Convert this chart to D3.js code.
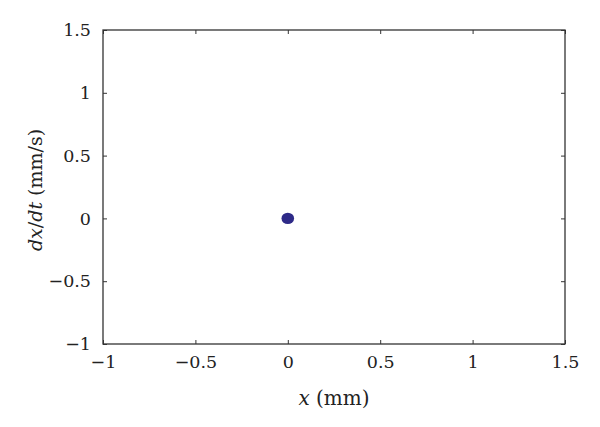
<!DOCTYPE html>
<html><head><meta charset="utf-8">
<script src="https://cdn.jsdelivr.net/npm/d3@7"></script>
<style>body{margin:0;background:#fff}svg{display:block}</style>
</head><body><svg id="c" width="600" height="427"></svg>
<script>
const xTicks = [-1, -0.5, 0, 0.5, 1, 1.5];
const yTicks = [-1, -0.5, 0, 0.5, 1, 1.5];
const pointsX = [0];
const pointsY = [0];
const xDomain = [-1, 1.5];
const yDomain = [-1, 1.5];

const svg = d3.select("#c");
const m = {l: 103, r: 35, t: 30, b: 83};
const W = 600, H = 427;
const x = d3.scaleLinear().domain(xDomain).range([m.l, W - m.r]);
const y = d3.scaleLinear().domain(yDomain).range([H - m.b, m.t]);
const font = "'DejaVu Serif', 'Liberation Serif', serif";
const fmt = d => (d < 0 ? "\u2212" : "") + String(Math.abs(d));

function styleAxis(g) {
  g.selectAll("path.domain").remove();
  g.selectAll("line").attr("stroke", "#333").attr("stroke-width", 1);
  g.selectAll("text").attr("font-family", font).attr("font-size", 17.5).attr("fill", "#222");
}
svg.append("g").attr("transform", `translate(0,${y(yDomain[0])})`)
  .call(d3.axisBottom(x).tickValues(xTicks).tickFormat(fmt).tickSizeInner(-4).tickSizeOuter(0).tickPadding(12))
  .call(styleAxis);
svg.append("g").attr("transform", `translate(0,${y(yDomain[1])})`)
  .call(d3.axisTop(x).tickValues(xTicks).tickFormat("").tickSizeInner(-4).tickSizeOuter(0))
  .call(styleAxis);
svg.append("g").attr("transform", `translate(${x(xDomain[0])},0)`)
  .call(d3.axisLeft(y).tickValues(yTicks).tickFormat(fmt).tickSizeInner(-4).tickSizeOuter(0).tickPadding(12))
  .call(styleAxis);
svg.append("g").attr("transform", `translate(${x(xDomain[1])},0)`)
  .call(d3.axisRight(y).tickValues(yTicks).tickFormat("").tickSizeInner(-4).tickSizeOuter(0))
  .call(styleAxis);

svg.append("rect").attr("x", x(xDomain[0])).attr("y", y(yDomain[1]))
  .attr("width", x(xDomain[1]) - x(xDomain[0])).attr("height", y(yDomain[0]) - y(yDomain[1]))
  .attr("fill", "none").attr("stroke", "#333").attr("stroke-width", 1.3);

svg.selectAll("ellipse.pt").data(pointsX.map((v, i) => [v, pointsY[i]])).enter()
  .append("ellipse").attr("class", "pt")
  .attr("cx", d => x(d[0])).attr("cy", d => y(d[1])).attr("rx", 6.3).attr("ry", 5.7)
  .attr("fill", "#2e2a88");

const xl = svg.append("text").attr("x", (x(xDomain[0]) + x(xDomain[1])) / 2).attr("y", 405)
  .attr("text-anchor", "middle").attr("font-family", font).attr("font-size", 20).attr("fill", "#222");
xl.append("tspan").attr("font-style", "italic").text("x");
xl.append("tspan").text(" (mm)");

const yl = svg.append("text").attr("transform", `translate(42,190) rotate(-90)`)
  .attr("text-anchor", "middle").attr("font-family", font).attr("font-size", 19).attr("fill", "#222");
yl.append("tspan").attr("font-style", "italic").text("dx");
yl.append("tspan").text("/");
yl.append("tspan").attr("font-style", "italic").text("dt");
yl.append("tspan").text(" (mm/s)");
</script></body></html>
